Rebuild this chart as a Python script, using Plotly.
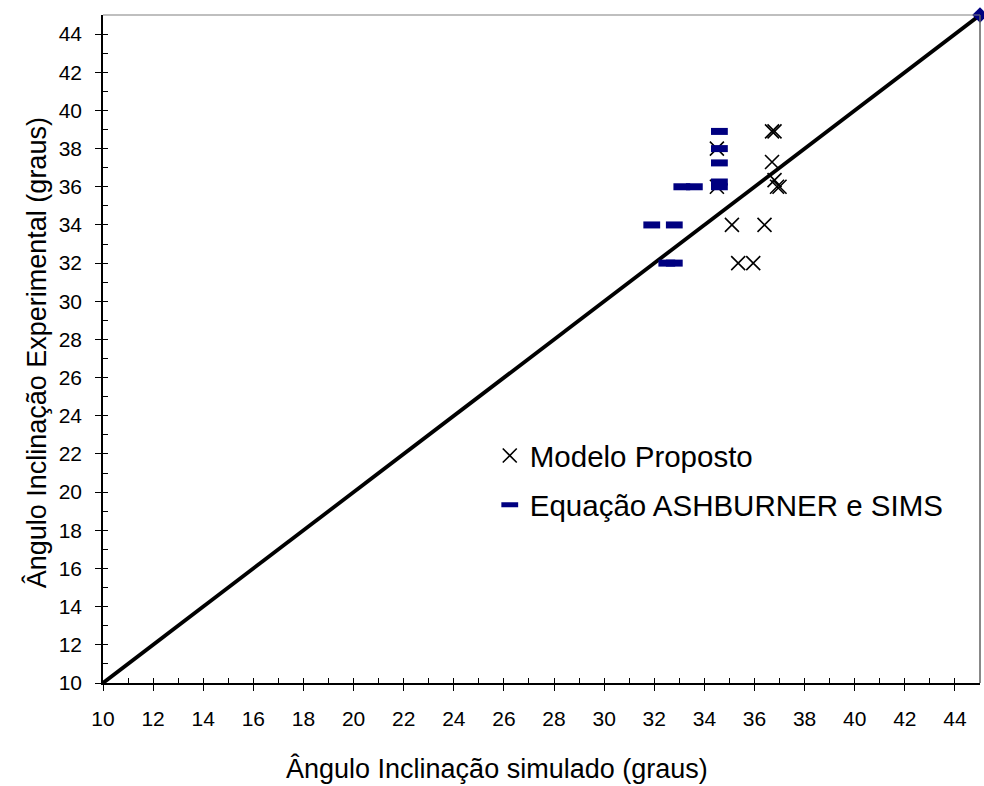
import plotly.graph_objects as go

# Modelo Proposto (x = simulated, y = experimental)
modelo_x = [36.7, 36.8, 34.5, 36.7, 36.8, 36.9, 37.0, 34.5, 35.1, 36.4, 35.35, 35.95]
modelo_y = [38.9, 38.9, 38.0, 37.3, 36.35, 36.0, 36.0, 36.0, 34.0, 34.0, 32.0, 32.0]

# Equação ASHBURNER e SIMS
ash_x = [34.6, 34.6, 34.6, 34.6, 34.6, 33.1, 33.6, 31.9, 32.8, 32.5, 32.8]
ash_y = [38.9, 38.0, 37.25, 36.25, 36.0, 36.0, 36.0, 34.0, 34.0, 32.0, 32.0]

# 1:1 line
line_x = [10, 45]
line_y = [10, 45]

# end marker
end_x = [45]
end_y = [45]

tick_vals = list(range(10, 46, 2))
tick_text = [str(v) for v in tick_vals]
minor_vals = list(range(11, 45, 2))

FONT = "Liberation Sans, Arial, sans-serif"

fig = go.Figure()

fig.add_trace(go.Scatter(x=line_x, y=line_y, mode="lines",
                         line=dict(color="black", width=3.8),
                         showlegend=False, hoverinfo="skip"))
fig.add_trace(go.Scatter(x=end_x, y=end_y, mode="markers",
                         marker=dict(symbol="diamond", size=12, color="#000080"),
                         showlegend=False, cliponaxis=False))
fig.add_trace(go.Scatter(x=modelo_x, y=modelo_y, mode="markers", name="Modelo Proposto",
                         legendgroup="a",
                         marker=dict(symbol="x-thin", size=14,
                                     line=dict(color="black", width=1.6))))
fig.add_trace(go.Scatter(x=ash_x, y=ash_y, mode="markers", name="Equação ASHBURNER e SIMS",
                         legendgroup="b",
                         marker=dict(symbol="line-ew", size=12,
                                     line=dict(color="#000080", width=7))))

def axis_common(standoff):
    return dict(
        tickmode="array", tickvals=tick_vals, ticktext=tick_text,
        ticks="outside", ticklen=6, tickwidth=1, tickcolor="black",
        showline=True, linecolor="black", linewidth=1.5,
        showgrid=False, zeroline=False, automargin=False,
        ticklabelstandoff=standoff,
        tickfont=dict(family=FONT, size=21, color="black"),
        minor=dict(tickvals=minor_vals, ticks="inside", ticklen=5,
                   tickcolor="black", tickwidth=1, showgrid=False),
    )

fig.update_layout(
    width=984, height=786,
    margin=dict(l=103, r=4, t=15, b=103, autoexpand=False),
    plot_bgcolor="white", paper_bgcolor="white",
    font=dict(family=FONT, color="black"),
    xaxis=dict(range=[10, 45], **axis_common(10)),
    yaxis=dict(range=[10, 45], **axis_common(9)),
    legend=dict(x=0.441, y=0.379, xanchor="left", yanchor="top",
                font=dict(family=FONT, size=29.5, color="black"), bgcolor="rgba(0,0,0,0)",
                itemsizing="trace", tracegroupgap=8),
    showlegend=True,
)

# inside major ticks (crossing effect) via overlay axes
fig.update_layout(
    xaxis2=dict(overlaying="x", range=[10, 45], tickvals=tick_vals, ticks="inside",
                ticklen=5, tickcolor="black", showticklabels=False, showgrid=False,
                zeroline=False, side="bottom", showline=False, automargin=False),
    yaxis2=dict(overlaying="y", range=[10, 45], tickvals=tick_vals, ticks="inside",
                ticklen=5, tickcolor="black", showticklabels=False, showgrid=False,
                zeroline=False, side="left", showline=False, automargin=False),
)
fig.add_trace(go.Scatter(x=[None], y=[None], xaxis="x2", yaxis="y2", showlegend=False))

# axis titles
fig.add_annotation(text="Ângulo Inclinação simulado (graus)", xref="paper", yref="paper",
                   x=0.449, y=-0.128, xanchor="center", yanchor="middle", showarrow=False,
                   font=dict(family=FONT, size=27, color="black"))
fig.add_annotation(text="Ângulo Inclinação Experimental (graus)", xref="paper", yref="paper",
                   x=-0.076, y=0.494, xanchor="center", yanchor="middle", showarrow=False,
                   textangle=-90, font=dict(family=FONT, size=27, color="black"))

# top and right border (grey)
fig.add_shape(type="line", xref="paper", yref="paper", x0=0, x1=1, y0=1, y1=1,
              line=dict(color="#808080", width=1.2))
fig.add_shape(type="line", xref="paper", yref="paper", x0=1, x1=1, y0=0, y1=1,
              line=dict(color="#606060", width=1.5))

fig.write_html("out.html", config={"displayModeBar": False},
               post_script="document.body.style.margin='0px';document.body.style.overflow='hidden';")
